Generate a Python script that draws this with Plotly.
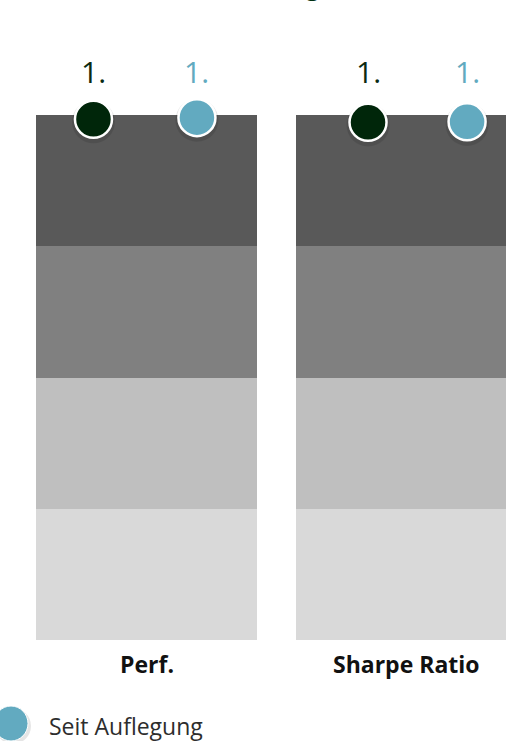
import plotly.graph_objects as go

# ---------------- data ----------------
categories = ["Perf.", "Sharpe Ratio"]
quartile_names = ["1. Quartil", "2. Quartil", "3. Quartil", "4. Quartil"]
quartile_sizes = [25, 25, 25, 25]          # percent of peer group per band

series_names = ["Fonds", "Seit Auflegung"]
# percentile position (0 = best)
series_positions = [[0.8, 1.4],            # dark series
                    [0.5, 1.3]]            # light series
series_rank_labels = [["1.", "1."], ["1.", "1."]]

title_text = "Ranking"
legend_text = "Seit Auflegung"

# ---------------- style ----------------
W, H = 506, 741
band_colors = ["#595959", "#808080", "#bfbfbf", "#d9d9d9"]
series_colors = ["#00260a", "#62aac0"]
label_colors = ["#0b2a12", "#62aac0"]
series_offsets = [[-0.204, -0.148], [0.194, 0.233]]
PLOT_TOP, PLOT_BOT = 115, 640
PH = PLOT_BOT - PLOT_TOP


def py(p):  # pixel y -> paper y
    return (PLOT_BOT - p) / PH


def px(p):  # pixel x -> paper x
    return p / W


FONT = "Open Sans"
fig = go.Figure()

x_idx = list(range(len(categories)))
for name, size, col in zip(quartile_names, quartile_sizes, band_colors):
    fig.add_trace(go.Bar(x=x_idx, y=[size] * len(categories), name=name,
                         marker=dict(color=col, line=dict(width=0)),
                         width=0.85, showlegend=False, hoverinfo="skip"))

# soft marker shadows
for s, (pos, offs) in enumerate(zip(series_positions, series_offsets)):
    xs = [i + o for i, o in zip(x_idx, offs)]
    fig.add_trace(go.Scatter(x=xs, y=[p + 0.5 for p in pos], mode="markers",
                             marker=dict(size=43, color="rgba(0,0,0,0.10)"),
                             showlegend=False, hoverinfo="skip", cliponaxis=False))
for s, (pos, offs) in enumerate(zip(series_positions, series_offsets)):
    xs = [i + o for i, o in zip(x_idx, offs)]
    fig.add_trace(go.Scatter(x=xs, y=pos, mode="markers", name=series_names[s],
                             marker=dict(size=37, color=series_colors[s],
                                         line=dict(color="white", width=2.5)),
                             showlegend=False, cliponaxis=False))
    for xv, lab in zip(xs, series_rank_labels[s]):
        fig.add_annotation(x=xv, y=py(71), yref="paper", text=lab, showarrow=False,
                           font=dict(family=FONT, size=30, color=label_colors[s]),
                           xanchor="center", yanchor="middle")

# category labels
for i, c in enumerate(categories):
    fig.add_annotation(x=i, y=py(664), yref="paper", text=f"<b>{c}</b>", showarrow=False,
                       font=dict(family=FONT, size=23, color="#111111"),
                       xanchor="center", yanchor="middle")

# title (mostly above the visible area)
fig.add_annotation(x=px(322), xref="paper", y=py(4), yref="paper", text=f"<b>{title_text}</b>",
                   showarrow=False, font=dict(family=FONT, size=24, color="#00300f"),
                   xanchor="right", yanchor="bottom")

# legend (custom)
fig.add_shape(type="circle", xref="paper", yref="paper",
              x0=px(-5), x1=px(31), y0=py(744), y1=py(708),
              fillcolor="rgba(0,0,0,0.10)", line=dict(width=0), layer="above")
fig.add_shape(type="circle", xref="paper", yref="paper",
              x0=px(-6), x1=px(28), y0=py(741), y1=py(706),
              fillcolor=series_colors[1], line=dict(color="white", width=1), layer="above")
fig.add_annotation(x=px(47), xref="paper", y=py(726), yref="paper", text=legend_text,
                   showarrow=False, font=dict(family=FONT, size=23, color="#2d2d2d"),
                   xanchor="left", yanchor="middle")

fig.update_layout(
    width=W, height=H, barmode="stack", bargap=0,
    margin=dict(l=0, r=0, t=PLOT_TOP, b=H - PLOT_BOT, pad=0),
    paper_bgcolor="white", plot_bgcolor="white",
    xaxis=dict(range=[-146.5 / 260, (W - 146.5) / 260], showgrid=False, zeroline=False,
               showticklabels=False, ticks="", fixedrange=True),
    yaxis=dict(range=[100, 0], showgrid=False, zeroline=False, showticklabels=False,
               ticks="", fixedrange=True),
    showlegend=False,
)

fig.write_html("out.html")
